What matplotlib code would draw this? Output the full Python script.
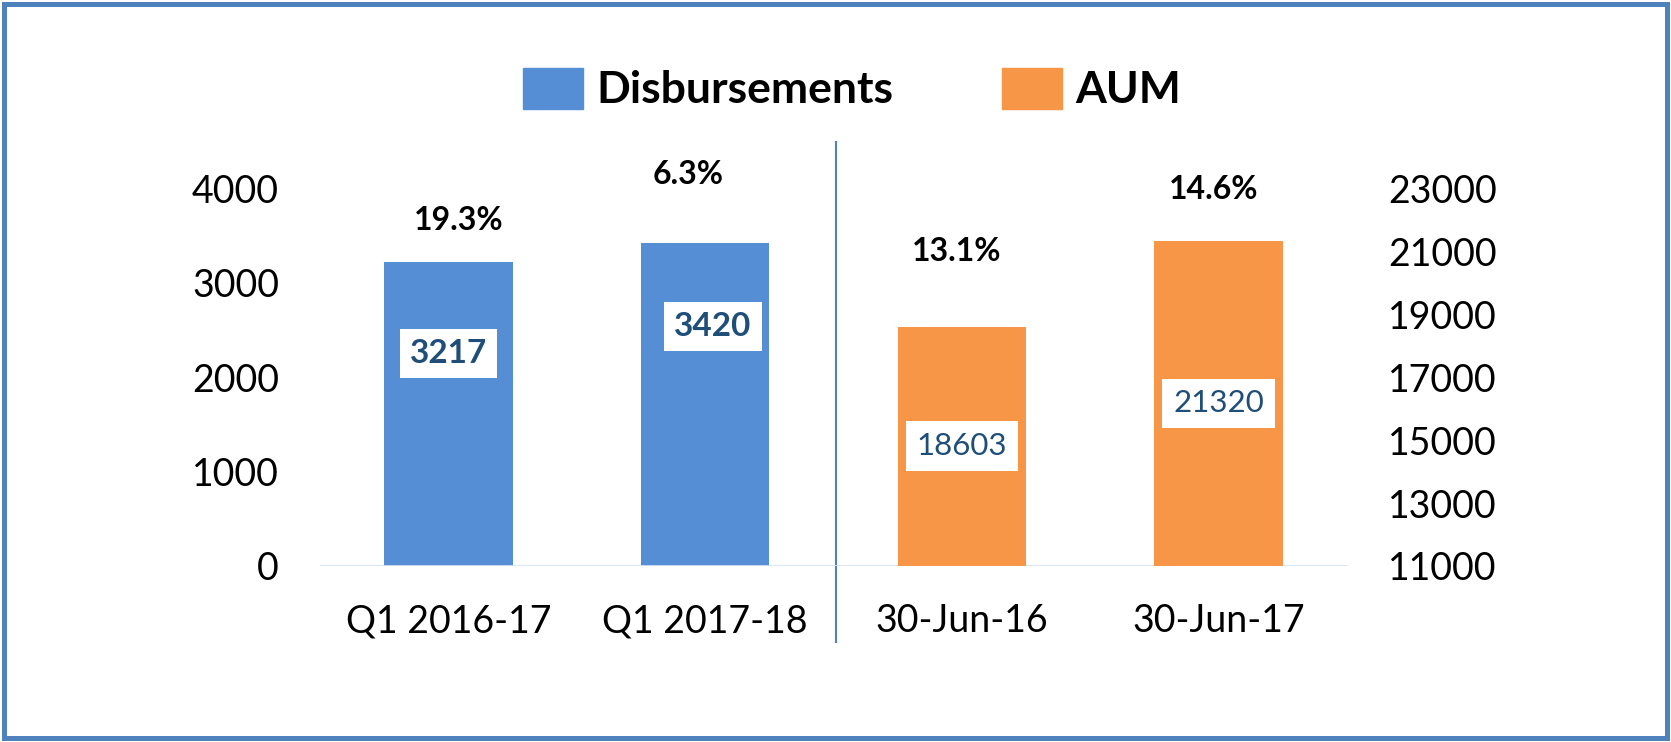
import matplotlib.pyplot as plt
import matplotlib as mpl
from matplotlib.patches import Patch, Rectangle

plt.rcParams['font.family'] = ['Lato', 'DejaVu Sans']

# data
categories = ['Q1 2016-17', 'Q1 2017-18', '30-Jun-16', '30-Jun-17']
disb_values = [3217, 3420]
aum_values = [18603, 21320]
growth_labels = ['19.3%', '6.3%', '13.1%', '14.6%']
left_ticks = [0, 1000, 2000, 3000, 4000]
right_ticks = [11000, 13000, 15000, 17000, 19000, 21000, 23000]

blue = '#558ED5'
orange = '#F79646'
label_col = '#1F4E79'

# where the growth labels sit (x shift in category units, y in axes fraction)
growth_pos = [(0.04, 0.915), (-0.066, 1.036), (-0.02, 0.831), (-0.02, 0.995)]

fig = plt.figure(figsize=(16.71, 7.42), dpi=100)
ax = fig.add_axes([0.1915, 0.2372, 0.6146, 0.5094])
ax2 = ax.twinx()

x_disb = [0, 1]
x_aum = [2, 3]
ax.bar(x_disb, disb_values, width=0.5, color=blue, zorder=2)
ax2.bar(x_aum, aum_values, width=0.5, color=orange, zorder=2)

ax.set_xlim(-0.5, 3.5)
ax.set_ylim(0, 4000)
ax2.set_ylim(11000, 23000)
ax.set_yticks(left_ticks)
ax2.set_yticks(right_ticks)
ax.set_xticks(range(len(categories)))
ax.set_xticklabels(categories)

for a in (ax, ax2):
    for s in a.spines.values():
        s.set_visible(False)
    a.tick_params(length=0, labelsize=27)
ax.tick_params(axis='y', pad=29.5)
ax2.tick_params(axis='y', pad=29.5)
ax.tick_params(axis='x', pad=27)
ax.axhline(0, color='#D6E2F2', lw=2, zorder=3)

# value boxes
for xi, v, fr in zip(x_disb, disb_values, [0.70, 0.74]):
    ax.text(xi + 0.03 * (xi == 1), v * fr, str(v), ha='center', va='center',
            fontsize=24, fontweight='bold', color=label_col, zorder=4,
            bbox=dict(boxstyle='square,pad=0.3', fc='white', ec='none'))
for xi, v in zip(x_aum, aum_values):
    ax2.text(xi, 11000 + (v - 11000) / 2, str(v), ha='center', va='center',
             fontsize=22.5, color=label_col, zorder=4,
             bbox=dict(boxstyle='square,pad=0.35', fc='white', ec='none'))

# growth labels
for i, (lab, (dx, fy)) in enumerate(zip(growth_labels, growth_pos)):
    ax.text(i + dx, fy, lab, transform=ax.get_xaxis_transform(), ha='center',
            va='center', fontsize=23, fontweight='bold', clip_on=False)

# divider between the two groups
ax.plot([1.51, 1.51], [-0.201, 1.122], transform=ax.get_xaxis_transform(),
        color='#4F81BD', lw=1.5, clip_on=False)

handles = [Patch(color=blue, label='Disbursements'), Patch(color=orange, label='AUM')]
fig.legend(handles=handles, loc='center', bbox_to_anchor=(0.51, 0.88), ncol=2,
           frameon=False, prop={'size': 32, 'weight': 'bold'},
           handlelength=1.35, handleheight=1.05, handletextpad=0.3, columnspacing=2.45)

fig.patches.append(Rectangle((0.0025, 0.005), 0.995, 0.99, transform=fig.transFigure,
                             fill=False, ec='#4F81BD', lw=3.6))

plt.savefig('out.png', dpi=100)
plt.close()
